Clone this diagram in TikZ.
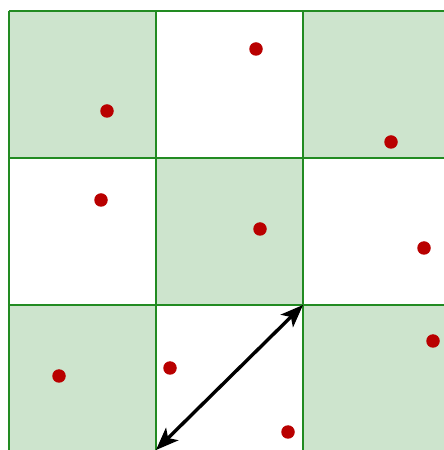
\documentclass[tikz,border=0pt]{standalone}
\usetikzlibrary{calc}
\definecolor{cellfill}{RGB}{205,228,205}
\definecolor{gridgreen}{RGB}{34,139,34}
\definecolor{dotred}{RGB}{185,0,0}
\begin{document}
\begin{tikzpicture}[x=1pt,y=1pt,
  cellon/.style={fill=cellfill},
  gridline/.style={draw=gridgreen,line width=1.6pt},
  dot/.style={circle,fill=dotred,inner sep=0pt,minimum size=13.5pt},
  shaft/.style={line width=3.4pt,line cap=butt},
  headfill/.style={fill=black}]
\useasboundingbox (0,0) rectangle (444,450);
\begin{scope}
\clip (0,0) rectangle (444,450);
% filled cells (checkerboard); y = 450 - pixel row
\fill[cellon] (9,439) rectangle (156,292);
\fill[cellon] (303,439) rectangle (450,292);
\fill[cellon] (156,292) rectangle (303,145);
\fill[cellon] (9,145) rectangle (156,-2);
\fill[cellon] (303,145) rectangle (450,-2);
% grid lines
\foreach \x in {9,156,303} \draw[gridline] (\x,439) -- (\x,-10);
\foreach \y in {439,292,145} \draw[gridline] (9,\y) -- (460,\y);
% points
\node[dot] (p1) at (107,339) {};
\node[dot] (p2) at (256,401) {};
\node[dot] (p3) at (391,308) {};
\node[dot] (p4) at (101,250) {};
\node[dot] (p5) at (260,221) {};
\node[dot] (p6) at (424,202) {};
\node[dot] (p7) at (59,74) {};
\node[dot] (p8) at (170,82) {};
\node[dot] (p9) at (288,18) {};
\node[dot] (p10) at (433,109) {};
% diagonal double arrow
\coordinate (c1) at (156,0);
\coordinate (c2) at (303,145);
\draw[shaft] ($(c1)!14pt!(c2)$) -- ($(c2)!14pt!(c1)$);
\foreach \a/\b in {c1/c2,c2/c1}{
  \coordinate (bb) at ($(\a)!23pt!(\b)$);
  \coordinate (in) at ($(\a)!17pt!(\b)$);
  \fill[headfill] (\a) -- ($(bb)!9pt!90:(\a)$) -- (in) -- ($(bb)!9pt!-90:(\a)$) -- cycle;
}
\end{scope}
\end{tikzpicture}
\end{document}
